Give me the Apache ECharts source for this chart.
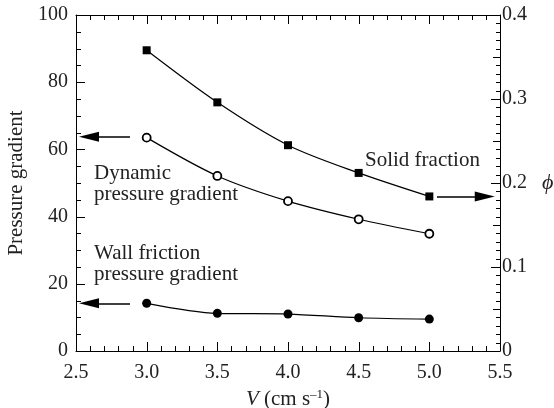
<!DOCTYPE html>
<html><head><meta charset="utf-8">
<script src="https://cdn.jsdelivr.net/npm/echarts@6.0.0/dist/echarts.min.js"></script>
<style>html,body{margin:0;padding:0;background:#fff}#c{width:554px;height:408px}</style>
</head><body><div id="c"></div>
<script>
const velocities = [3.0, 3.5, 4.0, 4.5, 5.0];
const solidFraction = [0.358, 0.296, 0.245, 0.212, 0.184];
const dynamicGradient = [63.5, 52.1, 44.6, 39.2, 34.9];
const wallGradient = [14.2, 11.2, 11.0, 9.9, 9.5];
const xTicks = [2.5, 3.0, 3.5, 4.0, 4.5, 5.0, 5.5];
const leftTicks = [0, 20, 40, 60, 80, 100];
const rightTicks = [0, 0.1, 0.2, 0.3, 0.4];

const F = 'Liberation Serif, DejaVu Serif, serif';
const C = '#222';
const pair = (xs, ys) => xs.map((x, i) => [x, ys[i]]);

function makeAxis(position, ticks, interval, labelOpts, extra) {
  const ax = {
    type: 'value', position: position,
    min: ticks[0], max: ticks[ticks.length - 1], interval: interval,
    axisLine: { show: true, onZero: false, lineStyle: { color: '#000' } },
    axisTick: { show: false },
    minorTick: { show: false },
    splitLine: { show: false },
    axisLabel: labelOpts
  };
  return Object.assign(ax, extra || {});
}

function arrow(from, to) {
  return {
    silent: true,
    symbol: ['none', 'triangle'],
    symbolSize: [10, 20],
    label: { show: false },
    emphasis: { disabled: true },
    lineStyle: { color: '#000', width: 1.6, type: 'solid' },
    data: [[{ coord: from }, { coord: to }]]
  };
}

const texts = [
  { type: 'text', id: 'txtDyn', left: 94, top: 163, style: { text: 'Dynamic\npressure gradient', font: '21px ' + F, fill: C, lineHeight: 21 } },
  { type: 'text', id: 'txtSol', left: 365, top: 150, style: { text: 'Solid fraction', font: '21px ' + F, fill: C } },
  { type: 'text', id: 'txtWall', left: 94, top: 243, style: { text: 'Wall friction\npressure gradient', font: '21px ' + F, fill: C, lineHeight: 21 } }
];

const chart = echarts.init(document.getElementById('c'));
chart.setOption({
  animation: false,
  grid: { left: 76, right: 54, top: 15, bottom: 57, outerBoundsMode: 'none', containLabel: false },
  xAxis: [
    makeAxis('bottom', xTicks, 0.5,
      { fontFamily: F, fontSize: 20, color: C, margin: 12, formatter: v => v.toFixed(1) },
      { name: '{i|V} (cm s{s|–1})', nameLocation: 'middle', nameGap: 35,
        nameTextStyle: { fontFamily: F, fontSize: 21, color: C,
          rich: { i: { fontFamily: F, fontSize: 21, fontStyle: 'italic', color: C },
                  s: { fontFamily: F, fontSize: 13, color: C, verticalAlign: 'bottom', padding: [0, 0, 10, 0] } } } }),
    makeAxis('top', xTicks, 0.5, { show: false })
  ],
  yAxis: [
    makeAxis('left', leftTicks, 20,
      { fontFamily: F, fontSize: 20, color: C, margin: 8 },
      { name: 'Pressure gradient', nameLocation: 'middle', nameGap: 47,
        nameTextStyle: { fontFamily: F, fontSize: 21, color: C } }),
    makeAxis('right', rightTicks, 0.1,
      { fontFamily: F, fontSize: 20, color: C, margin: 2, formatter: v => v === 0 ? '0' : v.toFixed(1) },
      { name: 'ϕ', nameLocation: 'middle', nameGap: 42, nameRotate: 0,
        nameTextStyle: { fontFamily: F, fontSize: 22, fontStyle: 'italic', color: C, padding: [0, 0, 2, 0] } })
  ],
  series: [
    {
      name: 'Solid fraction', type: 'line', xAxisIndex: 0, yAxisIndex: 1,
      data: pair(velocities, solidFraction), smooth: 0.3,
      symbol: 'rect', symbolSize: 8,
      lineStyle: { color: '#000', width: 1.2 }, itemStyle: { color: '#000' },
      markLine: arrow([5.054, 0.184], [5.392, 0.184])
    },
    {
      name: 'Dynamic', type: 'line', xAxisIndex: 0, yAxisIndex: 0,
      data: pair(velocities, dynamicGradient), smooth: 0.3,
      symbol: 'circle', symbolSize: 8,
      lineStyle: { color: '#000', width: 1.2 }, itemStyle: { color: '#fff', borderColor: '#000', borderWidth: 1.8 },
      markLine: arrow([2.882, 63.8], [2.592, 63.8])
    },
    {
      name: 'Wall', type: 'line', xAxisIndex: 0, yAxisIndex: 0,
      data: pair(velocities, wallGradient), smooth: 0.3,
      symbol: 'circle', symbolSize: 9,
      lineStyle: { color: '#000', width: 1.2 }, itemStyle: { color: '#000' },
      markLine: arrow([2.882, 14.2], [2.592, 14.2])
    }
  ],
  graphic: texts
});

// Axis tick decorations placed through the chart's own scales
try {
  const gx = v => chart.convertToPixel({ xAxisIndex: 0 }, v);
  const gyL = v => chart.convertToPixel({ yAxisIndex: 0 }, v);
  const gyR = v => chart.convertToPixel({ yAxisIndex: 1 }, v);
  const xl = gx(xTicks[0]), xr = gx(xTicks[xTicks.length - 1]);
  const yb = gyL(leftTicks[0]), yt = gyL(leftTicks[leftTicks.length - 1]);
  const st = { stroke: '#000', lineWidth: 1 };
  const lines = [];
  let n = 0;
  const add = (x1, y1, x2, y2) => lines.push({ type: 'line', id: 'tick' + (n++), silent: true, z: 100,
    shape: { x1: x1, y1: y1, x2: x2, y2: y2 }, style: st });
  const xTick = (v, len) => { const p = Math.round(gx(v)) + 0.5; add(p, yb, p, yb - len); add(p, yt, p, yt + len); };
  const lTick = (v, len) => { const p = Math.round(gyL(v)) + 0.5; add(xl, p, xl + len, p); };
  const rTick = (v, len) => { const p = Math.round(gyR(v)) + 0.5; add(xr - len, p, xr, p); };
  xTicks.forEach((t, i) => {
    xTick(t, 9);
    if (i < xTicks.length - 1) for (let k = 1; k < 5; k++) xTick(t + k * (xTicks[i + 1] - t) / 5, 5);
  });
  leftTicks.forEach((t, i) => {
    lTick(t, 9);
    if (i < leftTicks.length - 1) for (let k = 1; k < 4; k++) lTick(t + k * (leftTicks[i + 1] - t) / 4, 5);
  });
  rightTicks.forEach((t, i) => {
    rTick(t, 9);
    if (i < rightTicks.length - 1) for (let k = 1; k < 10; k++) rTick(t + k * (rightTicks[i + 1] - t) / 10, k === 5 ? 7 : 4);
  });
  chart.setOption({ graphic: texts.concat(lines) });
} catch (e) { console.error(e); }
</script></body></html>
